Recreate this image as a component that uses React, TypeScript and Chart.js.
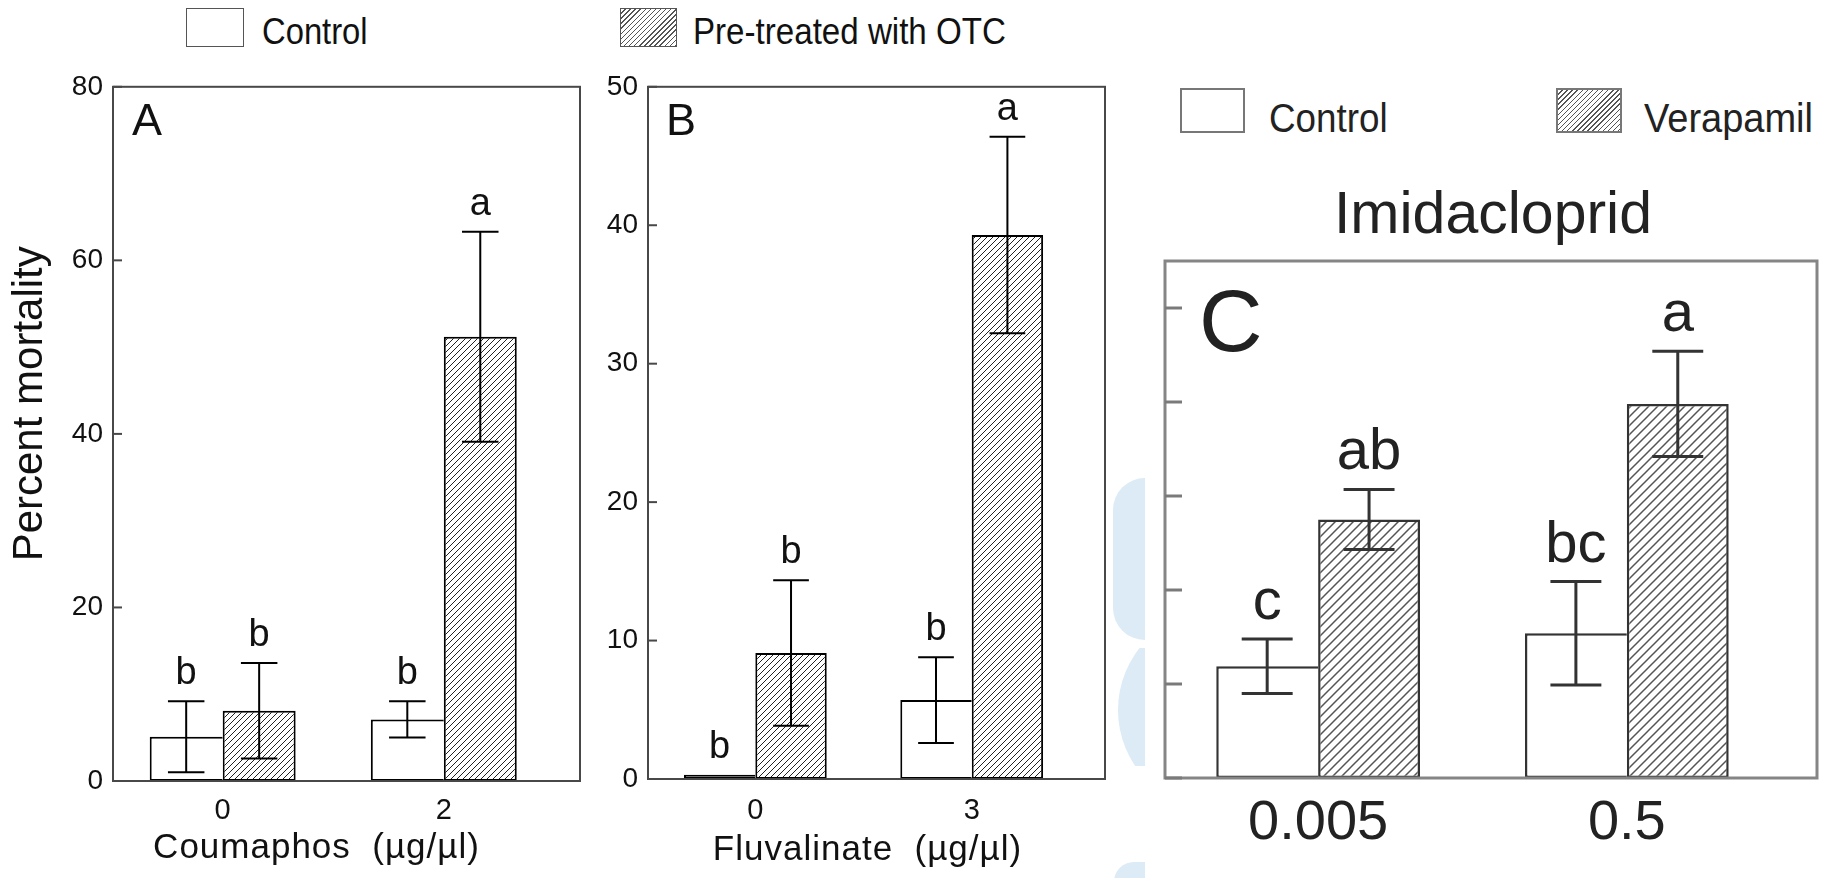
import React, { useEffect, useRef } from "react";
import { Chart, registerables } from "chart.js";

Chart.register(...registerables);

const FONT = "'Liberation Sans', Arial, Helvetica, sans-serif";

// ---------- Panel A : Coumaphos ----------
const groupsA = ["0", "2"];
const controlA = [5.1, 7.1];
const controlErrA = [4.1, 2.1];
const otcA = [8.1, 51.2];
const otcErrA = [5.5, 12.1];
const lettersControlA = ["b", "b"];
const lettersOtcA = ["b", "a"];
const yTicksA = [0, 20, 40, 60, 80];
const yMaxA = 80;

// ---------- Panel B : Fluvalinate ----------
const groupsB = ["0", "3"];
const controlB = [0.3, 5.7];
const controlErrB = [0, 3.1];
const otcB = [9.1, 39.3];
const otcErrB = [5.25, 7.1];
const lettersControlB = ["b", "b"];
const lettersOtcB = ["b", "a"];
const yTicksB = [0, 10, 20, 30, 40, 50];
const yMaxB = 50;

// ---------- Panel C : Imidacloprid ----------
const groupsC = ["0.005", "0.5"];
const controlC = [11.9, 15.4];
const controlErrC = [2.9, 5.5];
const verapamilC = [27.5, 39.8];
const verapamilErrC = [3.2, 5.6];
const lettersControlC = ["c", "bc"];
const lettersVerapamilC = ["ab", "a"];
const yTicksC = [0, 10, 20, 30, 40, 50];
const yMaxC = 55;

const X_MIN = -0.496;
const X_MAX = 1.616;

type Box = { left: number; top: number; width: number; height: number };
type Area = { left: number; top: number; right: number; bottom: number };

interface PanelCfg {
  id: string;
  groups: string[];
  series: { name: string; values: number[]; errors: number[]; letters: string[]; hatched: boolean }[];
  yMax: number;
  yTicks: number[];
  showYLabels: boolean;
  canvas: Box;
  area: Area;
  st: {
    frameColor: string;
    frameWidth: number;
    tickLen: number;
    tickWidth: number;
    tickColor: string;
    barBorder: string;
    barBorderWidth: number;
    hatchSize: number;
    hatchColor: string;
    hatchWidth: number;
    errColor: string;
    errWidth: number;
    capFrac: number;
    letterSize: number;
    letterGap: number;
    textColor: string;
    xTickSize: number;
    xTickPad: number;
    yTickSize: number;
  };
  label: { text: string; dx: number; dy: number; size: number };
  xTitle?: { text: string; dx: number; dy: number; size: number };
  yTitle?: { text: string; dx: number; dy: number; size: number };
}

const panels: PanelCfg[] = [
  {
    id: "A",
    groups: groupsA,
    series: [
      { name: "Control", values: controlA, errors: controlErrA, letters: lettersControlA, hatched: false },
      { name: "Pre-treated with OTC", values: otcA, errors: otcErrA, letters: lettersOtcA, hatched: true },
    ],
    yMax: yMaxA,
    yTicks: yTicksA,
    showYLabels: true,
    canvas: { left: 0, top: 60, width: 600, height: 818 },
    area: { left: 113, top: 81, right: 580, bottom: 781 },
    st: {
      frameColor: "#484848", frameWidth: 2, tickLen: 9, tickWidth: 2, tickColor: "#484848",
      barBorder: "#000", barBorderWidth: 2, hatchSize: 6, hatchColor: "#222", hatchWidth: 1,
      errColor: "#000", errWidth: 2, capFrac: 0.5, letterSize: 38, letterGap: 17, textColor: "#111",
      xTickSize: 29, xTickPad: 13, yTickSize: 28,
    },
    label: { text: "A", dx: 19, dy: 48, size: 45 },
    xTitle: { text: "Coumaphos  (µg/µl)", dx: 203.5, dy: 77, size: 35 },
    yTitle: { text: "Percent mortality", dx: -71, dy: 317, size: 42 },
  },
  {
    id: "B",
    groups: groupsB,
    series: [
      { name: "Control", values: controlB, errors: controlErrB, letters: lettersControlB, hatched: false },
      { name: "Pre-treated with OTC", values: otcB, errors: otcErrB, letters: lettersOtcB, hatched: true },
    ],
    yMax: yMaxB,
    yTicks: yTicksB,
    showYLabels: true,
    canvas: { left: 600, top: 60, width: 540, height: 818 },
    area: { left: 648, top: 78, right: 1105, bottom: 779 },
    st: {
      frameColor: "#484848", frameWidth: 2, tickLen: 9, tickWidth: 2, tickColor: "#484848",
      barBorder: "#000", barBorderWidth: 2, hatchSize: 6, hatchColor: "#222", hatchWidth: 1,
      errColor: "#000", errWidth: 2, capFrac: 0.5, letterSize: 38, letterGap: 17, textColor: "#111",
      xTickSize: 29, xTickPad: 15, yTickSize: 28,
    },
    label: { text: "B", dx: 18, dy: 48, size: 45 },
    xTitle: { text: "Fluvalinate  (µg/µl)", dx: 219.5, dy: 81, size: 35 },
  },
  {
    id: "C",
    groups: groupsC,
    series: [
      { name: "Control", values: controlC, errors: controlErrC, letters: lettersControlC, hatched: false },
      { name: "Verapamil", values: verapamilC, errors: verapamilErrC, letters: lettersVerapamilC, hatched: true },
    ],
    yMax: yMaxC,
    yTicks: yTicksC,
    showYLabels: false,
    canvas: { left: 1140, top: 240, width: 689, height: 638 },
    area: { left: 1165, top: 261, right: 1817, bottom: 778 },
    st: {
      frameColor: "#858585", frameWidth: 3, tickLen: 17, tickWidth: 3, tickColor: "#7a7a7a",
      barBorder: "#333", barBorderWidth: 2.5, hatchSize: 9, hatchColor: "#555", hatchWidth: 1.5,
      errColor: "#333", errWidth: 3, capFrac: 0.5, letterSize: 58, letterGap: 20, textColor: "#222",
      xTickSize: 56, xTickPad: 12, yTickSize: 25,
    },
    label: { text: "C", dx: 34, dy: 90, size: 88 },
  },
];

function makeHatch(ctx: CanvasRenderingContext2D, size: number, color: string, lw: number) {
  const c = document.createElement("canvas");
  c.width = size;
  c.height = size;
  const g = c.getContext("2d")!;
  g.fillStyle = "#ffffff";
  g.fillRect(0, 0, size, size);
  g.strokeStyle = color;
  g.lineWidth = lw;
  g.beginPath();
  g.moveTo(-1, size + 1);
  g.lineTo(size + 1, -1);
  g.moveTo(-1, 1);
  g.lineTo(1, -1);
  g.moveTo(size - 1, size + 1);
  g.lineTo(size + 1, size - 1);
  g.stroke();
  return ctx.createPattern(c, "repeat")!;
}

const decorPlugin = {
  id: "panelDecor",
  afterDraw(chart: any, _args: any, opts: any) {
    const p: PanelCfg = opts.panel;
    const st = p.st;
    const ctx: CanvasRenderingContext2D = chart.ctx;
    const a = chart.chartArea;
    const y = chart.scales.y;
    ctx.save();

    // frame
    ctx.strokeStyle = st.frameColor;
    ctx.lineWidth = st.frameWidth;
    ctx.strokeRect(a.left, a.top, a.right - a.left, a.bottom - a.top);

    // inward ticks
    ctx.strokeStyle = st.tickColor;
    ctx.lineWidth = st.tickWidth;
    y.ticks.forEach((t: any) => {
      const py = y.getPixelForValue(t.value);
      ctx.beginPath();
      ctx.moveTo(a.left, py);
      ctx.lineTo(a.left + st.tickLen, py);
      ctx.stroke();
    });

    // error bars and letters
    chart.data.datasets.forEach((ds: any, di: number) => {
      const meta = chart.getDatasetMeta(di);
      const s = p.series[di];
      meta.data.forEach((el: any, i: number) => {
        const v = ds.data[i].y;
        const e = s.errors[i];
        const x = el.x;
        const cap = (el.width * st.capFrac) / 2;
        const yHi = y.getPixelForValue(v + e);
        const yLo = y.getPixelForValue(Math.max(0, v - e));
        if (e > 0) {
          ctx.strokeStyle = st.errColor;
          ctx.lineWidth = st.errWidth;
          ctx.beginPath();
          ctx.moveTo(x, yLo);
          ctx.lineTo(x, yHi);
          ctx.moveTo(x - cap, yHi);
          ctx.lineTo(x + cap, yHi);
          ctx.moveTo(x - cap, yLo);
          ctx.lineTo(x + cap, yLo);
          ctx.stroke();
        }
        ctx.fillStyle = st.textColor;
        ctx.font = `${st.letterSize}px ${FONT}`;
        ctx.textAlign = "center";
        ctx.textBaseline = "alphabetic";
        ctx.fillText(s.letters[i], x, yHi - st.letterGap);
      });
    });

    // panel label
    ctx.fillStyle = st.textColor;
    ctx.font = `${p.label.size}px ${FONT}`;
    ctx.textAlign = "left";
    ctx.textBaseline = "alphabetic";
    ctx.fillText(p.label.text, a.left + p.label.dx, a.top + p.label.dy);

    // x title
    if (p.xTitle) {
      ctx.font = `${p.xTitle.size}px ${FONT}`;
      ctx.textAlign = "center";
      (ctx as any).letterSpacing = "1px";
      ctx.fillText(p.xTitle.text, a.left + p.xTitle.dx, a.bottom + p.xTitle.dy);
      (ctx as any).letterSpacing = "0px";
    }
    // y title
    if (p.yTitle) {
      ctx.font = `${p.yTitle.size}px ${FONT}`;
      ctx.textAlign = "center";
      ctx.translate(a.left + p.yTitle.dx, a.top + p.yTitle.dy);
      ctx.rotate(-Math.PI / 2);
      ctx.fillText(p.yTitle.text, 0, 0);
    }
    ctx.restore();
  },
};

function Panel({ p }: { p: PanelCfg }) {
  const ref = useRef<HTMLCanvasElement>(null);
  useEffect(() => {
    const canvas = ref.current!;
    const ctx = canvas.getContext("2d")!;
    const st = p.st;
    const pattern = makeHatch(ctx, st.hatchSize, st.hatchColor, st.hatchWidth);
    const c = p.canvas;
    const a = p.area;
    const bw = st.barBorderWidth;
    const chart = new Chart(canvas, {
      type: "bar",
      data: {
        datasets: p.series.map((s, k) => ({
          label: s.name,
          data: s.values.map((v, i) => ({ x: i, y: v })),
          backgroundColor: s.hatched ? pattern : "#ffffff",
          borderColor: st.barBorder,
          borderWidth: k === 0 ? { top: bw, left: bw, bottom: bw, right: 0 } : bw,
          borderSkipped: false,
          barPercentage: 1,
          categoryPercentage: 0.66,
        })) as any,
      },
      options: {
        responsive: false,
        animation: false,
        devicePixelRatio: 1,
        layout: {
          padding: { left: 0, top: a.top - c.top, right: c.left + c.width - a.right, bottom: 0 },
        },
        plugins: {
          legend: { display: false },
          tooltip: { enabled: false },
          title: { display: false },
          panelDecor: { panel: p },
        } as any,
        scales: {
          x: {
            type: "linear",
            min: X_MIN,
            max: X_MAX,
            offset: false,
            grid: { display: false, drawTicks: false },
            border: { display: false },
            afterBuildTicks: (s: any) => {
              s.ticks = p.groups.map((_, i) => ({ value: i }));
            },
            afterFit: (s: any) => {
              s.height = c.top + c.height - a.bottom;
            },
            ticks: {
              autoSkip: false,
              maxRotation: 0,
              padding: st.xTickPad,
              color: st.textColor,
              font: { size: st.xTickSize, family: FONT },
              callback: (_v: any, i: number) => p.groups[i] ?? "",
            },
          },
          y: {
            type: "linear",
            min: 0,
            max: p.yMax,
            grid: { display: false, drawTicks: false },
            border: { display: false },
            afterBuildTicks: (s: any) => {
              s.ticks = p.yTicks.map((v) => ({ value: v }));
            },
            afterFit: (s: any) => {
              s.width = a.left - c.left;
            },
            ticks: {
              display: p.showYLabels,
              padding: 10,
              color: st.textColor,
              font: { size: st.yTickSize, family: FONT },
            },
          },
        },
      } as any,
      plugins: [decorPlugin as any],
    });
    return () => chart.destroy();
  }, [p]);
  return (
    <canvas
      ref={ref}
      width={p.canvas.width}
      height={p.canvas.height}
      style={{
        position: "absolute",
        left: p.canvas.left,
        top: p.canvas.top,
        width: p.canvas.width,
        height: p.canvas.height,
      }}
    />
  );
}

const hatchCss = "repeating-linear-gradient(135deg, #ffffff 0px, #ffffff 2.6px, #555 2.6px, #555 3.6px)";

function LegendText({ text, left, top, size, sx, color }: { text: string; left: number; top: number; size: number; sx: number; color: string }) {
  return (
    <div
      style={{
        position: "absolute",
        left,
        top,
        fontFamily: FONT,
        fontSize: size,
        lineHeight: `${size}px`,
        whiteSpace: "pre",
        color,
        transform: `scaleX(${sx})`,
        transformOrigin: "left top",
      }}
    >
      {text}
    </div>
  );
}

export default function App() {
  const blue = "#dcebf5";
  return (
    <div style={{ position: "absolute", left: 0, top: 0, width: 1829, height: 878, background: "#fff", overflow: "hidden" }}>
      {/* faint background watermark shapes */}
      <div style={{ position: "absolute", left: 1113, top: 478, width: 32, height: 162, background: blue, borderRadius: "40px 0 0 40px" }} />
      <div style={{ position: "absolute", left: 1100, top: 648, width: 45, height: 118, overflow: "hidden" }}>
        <div style={{ position: "absolute", left: 18, top: -38, width: 200, height: 200, borderRadius: "50%", background: blue }} />
      </div>
      <div style={{ position: "absolute", left: 1114, top: 862, width: 31, height: 20, background: blue, borderRadius: "30px 0 0 0" }} />

      {panels.map((p) => (
        <Panel key={p.id} p={p} />
      ))}

      {/* Legend for panels A and B */}
      <div style={{ position: "absolute", left: 186, top: 8, width: 58, height: 39, boxSizing: "border-box", border: "1.5px solid #555", background: "#fff" }} />
      <LegendText text="Control" left={262} top={14} size={36} sx={0.91} color="#111" />
      <div style={{ position: "absolute", left: 620, top: 8, width: 57, height: 39, boxSizing: "border-box", border: "1.5px solid #555", background: hatchCss }} />
      <LegendText text="Pre-treated with OTC" left={693} top={14} size={36} sx={0.92} color="#111" />

      {/* Legend for panel C */}
      <div style={{ position: "absolute", left: 1180, top: 88, width: 65, height: 45, boxSizing: "border-box", border: "2px solid #777", background: "#fff" }} />
      <LegendText text="Control" left={1269} top={98} size={40} sx={0.92} color="#222" />
      <div style={{ position: "absolute", left: 1556, top: 88, width: 66, height: 45, boxSizing: "border-box", border: "2px solid #777", background: hatchCss }} />
      <LegendText text="Verapamil" left={1644} top={98} size={40} sx={0.95} color="#222" />

      {/* Panel C title */}
      <div
        style={{
          position: "absolute",
          left: 1293,
          top: 184,
          width: 400,
          textAlign: "center",
          fontFamily: FONT,
          fontSize: 59,
          lineHeight: "59px",
          color: "#222",
        }}
      >
        Imidacloprid
      </div>
    </div>
  );
}
